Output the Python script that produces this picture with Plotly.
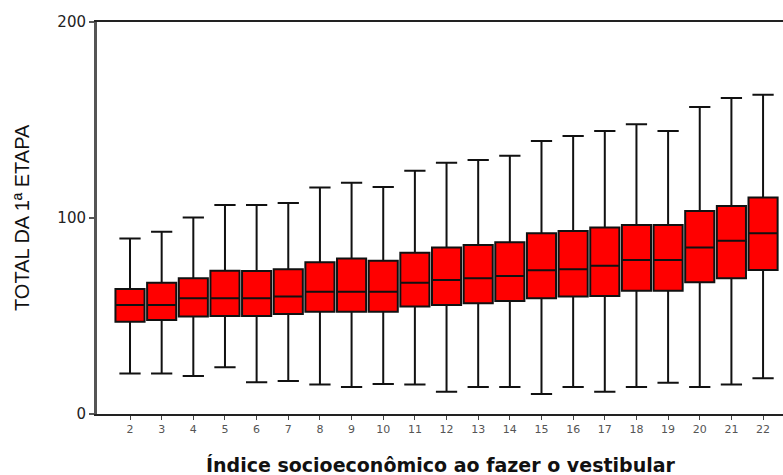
import plotly.graph_objects as go

categories = [2, 3, 4, 5, 6, 7, 8, 9, 10, 11, 12, 13, 14, 15, 16, 17, 18, 19, 20, 21, 22]
lower_whisker = [20.6, 20.6, 19.4, 23.8, 16.2, 16.8, 15.1, 13.8, 15.3, 15.1, 11.4, 13.8, 13.8, 10.2, 13.8, 11.4, 13.8, 16.0, 13.8, 15.1, 18.2]
q1 = [47.1, 48.0, 49.7, 50.0, 50.0, 51.0, 52.2, 52.2, 52.2, 54.8, 55.6, 56.5, 57.7, 59.0, 59.9, 60.2, 62.9, 62.9, 67.2, 69.2, 73.5]
median = [55.6, 55.6, 59.0, 59.0, 59.0, 60.0, 62.4, 62.4, 62.4, 67.0, 68.4, 69.2, 70.4, 73.3, 73.8, 75.7, 78.6, 78.6, 85.0, 88.4, 92.2]
q3 = [63.8, 67.0, 69.2, 73.1, 73.0, 73.8, 77.4, 79.4, 78.2, 82.3, 84.9, 86.2, 87.6, 92.2, 93.4, 95.2, 96.4, 96.4, 103.6, 106.1, 110.4]
upper_whisker = [89.6, 93.0, 100.3, 106.6, 106.6, 107.7, 115.5, 118.0, 115.8, 124.1, 128.2, 129.6, 131.8, 139.3, 141.8, 144.4, 147.8, 144.4, 156.6, 161.2, 162.9]
y_ticks = [0, 100, 200]
x_title = "Índice socioeconômico ao fazer o vestibular"
y_title = "TOTAL DA 1ª ETAPA"

fig = go.Figure()
fig.add_trace(go.Box(
    x=categories,
    q1=q1, median=median, q3=q3,
    lowerfence=lower_whisker, upperfence=upper_whisker,
    fillcolor="#ff0000",
    line=dict(color="#111111", width=2),
    width=0.92,
    whiskerwidth=0.73,
    boxpoints=False,
    showlegend=False,
    hoverinfo="skip",
))

fig.update_layout(
    width=783, height=475,
    margin=dict(l=97, r=0, t=22, b=61),
    paper_bgcolor="white", plot_bgcolor="white",
    font=dict(family="Liberation Sans, Arial, sans-serif", color="#222222"),
    xaxis=dict(
        range=[0.957, 22.63],
        tickmode="array", tickvals=categories, ticktext=[str(c) for c in categories],
        showgrid=False, zeroline=False,
        showline=True, linecolor="#222222", linewidth=2, mirror=True,
        ticks="outside", ticklen=4, tickwidth=1, tickcolor="#444444",
        tickfont=dict(size=11, color="#555555", family="DejaVu Sans"),
    ),
    yaxis=dict(
        range=[0, 200],
        tickmode="array", tickvals=y_ticks, ticktext=[str(v) for v in y_ticks],
        showgrid=False, zeroline=False,
        showline=True, linecolor="#555555", linewidth=3,
        ticks="outside", ticklen=5, tickwidth=1.5, tickcolor="#555555",
        tickfont=dict(size=15, color="#222222", family="DejaVu Sans"),
    ),
    annotations=[
        dict(text="<b>" + x_title + "</b>", xref="paper", yref="paper", x=0.5, y=0,
             xanchor="center", yanchor="middle", yshift=-51, showarrow=False,
             font=dict(size=19, color="#111111", family="DejaVu Sans")),
        dict(text=y_title, xref="paper", yref="paper", x=0, y=0.5,
             xanchor="center", yanchor="middle", xshift=-75, textangle=-90, showarrow=False,
             font=dict(size=20, color="#111111", family="Liberation Sans, Arial, sans-serif")),
    ],
)

fig.write_html("out.html")
